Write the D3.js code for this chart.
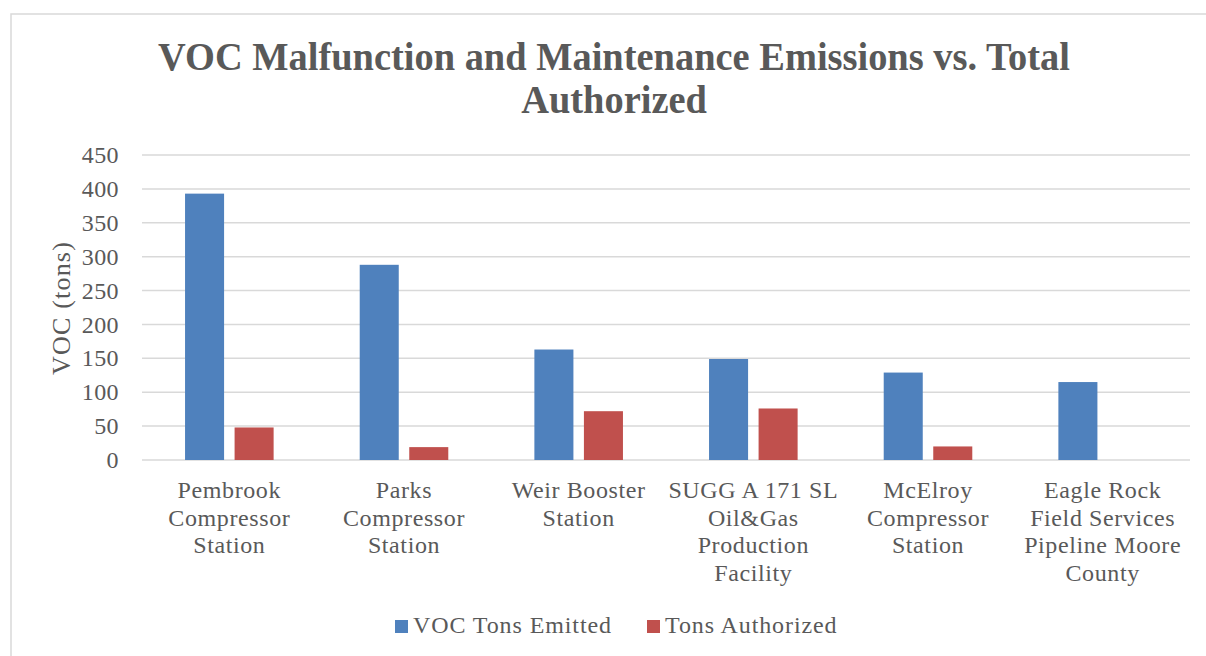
<!DOCTYPE html>
<html>
<head>
<meta charset="utf-8">
<script src="https://cdn.jsdelivr.net/npm/d3@7"></script>
<style>
  body { margin: 0; background: #fff; }
  svg text { font-family: "Liberation Serif", "Times New Roman", Tinos, Times, "DejaVu Serif", serif; fill: #595959; }
</style>
</head>
<body>
<svg id="chart" width="1206" height="656"></svg>
<script>
// data
var categories = [
    ["Pembrook", "Compressor", "Station"],
    ["Parks", "Compressor", "Station"],
    ["Weir Booster", "Station"],
    ["SUGG A 171 SL", "Oil&Gas", "Production", "Facility"],
    ["McElroy", "Compressor", "Station"],
    ["Eagle Rock", "Field Services", "Pipeline Moore", "County"]
];
var seriesNames = ["VOC Tons Emitted", "Tons Authorized"];
var emitted = [393, 288, 163, 149, 129, 115];
var authorized = [48, 19, 72, 76, 20, 0];
var yTicks = [0, 50, 100, 150, 200, 250, 300, 350, 400, 450];
var colors = ["#4F81BD", "#C0504D"];

var svg = d3.select("#chart");

// outer chart border
svg.append("rect")
    .attr("x", 11).attr("y", 14)
    .attr("width", 1210).attr("height", 660)
    .attr("fill", "none")
    .attr("stroke", "#d9d9d9")
    .attr("stroke-width", 1.5);

// title
var title = svg.append("g");
var t1 = title.append("text")
    .attr("x", 0).attr("y", 70)
    .style("font-size", "40px")
    .style("font-weight", "bold")
    .style("text-anchor", "middle")
    .text("VOC Malfunction and Maintenance Emissions vs. Total");
title.append("text")
    .attr("x", 0).attr("y", 113)
    .style("font-size", "40px")
    .style("font-weight", "bold")
    .style("text-anchor", "middle")
    .text("Authorized");
var sx = 912 / t1.node().getComputedTextLength();
title.attr("transform", "translate(614,0) scale(" + sx + ",1)");

var x0 = d3.scaleBand().domain(d3.range(categories.length)).range([142, 1190]);
var x1 = d3.scaleBand().domain([0, 1]).range([0, x0.bandwidth()])
    .paddingInner(0.212).paddingOuter(0.869);
var y = d3.scaleLinear().domain([0, 450]).range([460, 155]);

// gridlines
svg.append("g")
    .selectAll("line")
    .data(yTicks)
    .enter()
    .append("line")
        .attr("x1", 142).attr("x2", 1190)
        .attr("y1", function(d) { return y(d); })
        .attr("y2", function(d) { return y(d); })
        .attr("stroke", "#d9d9d9")
        .attr("stroke-width", 1.5);

// y axis labels
svg.append("g")
    .selectAll("text")
    .data(yTicks)
    .enter()
    .append("text")
        .attr("x", 119)
        .attr("y", function(d) { return y(d); })
        .attr("dy", "0.34em")
        .style("font-size", "24px")
        .style("letter-spacing", "0.4px")
        .style("text-anchor", "end")
        .text(function(d) { return d; });

svg.append("text")
    .attr("transform", "translate(70,308) rotate(-90)")
    .style("font-size", "26px")
    .style("letter-spacing", "1.2px")
    .style("text-anchor", "middle")
    .text("VOC (tons)");

// bars
var seriesData = [emitted, authorized];
seriesData.forEach(function(values, s) {
    svg.append("g")
        .selectAll("rect")
        .data(values)
        .enter()
        .append("rect")
            .attr("x", function(d, i) { return x0(i) + x1(s); })
            .attr("y", function(d) { return y(d); })
            .attr("width", x1.bandwidth())
            .attr("height", function(d) { return y(0) - y(d); })
            .attr("fill", colors[s]);
});

// category labels
var cat = svg.append("g")
    .selectAll("text")
    .data(categories)
    .enter()
    .append("text")
        .attr("x", function(d, i) { return x0(i) + x0.bandwidth() / 2; })
        .attr("y", 498)
        .style("font-size", "24px")
        .style("letter-spacing", "0.6px")
        .style("text-anchor", "middle");
cat.selectAll("tspan")
    .data(function(d) { return d; })
    .enter()
    .append("tspan")
        .attr("x", function() { return d3.select(this.parentNode).attr("x"); })
        .attr("dy", function(d, i) { return i === 0 ? 0 : 27.7; })
        .text(function(d) { return d; });

// legend
var legendX = [395, 647];
var legend = svg.append("g")
    .selectAll("g")
    .data(seriesNames)
    .enter()
    .append("g")
        .attr("transform", function(d, i) { return "translate(" + legendX[i] + ",620)"; });
legend.append("rect")
    .attr("width", 13).attr("height", 13)
    .attr("fill", function(d, i) { return colors[i]; });
legend.append("text")
    .attr("x", 18).attr("y", 13)
    .style("font-size", "24px")
    .style("letter-spacing", "0.9px")
    .text(function(d) { return d; });
</script>
</body>
</html>
